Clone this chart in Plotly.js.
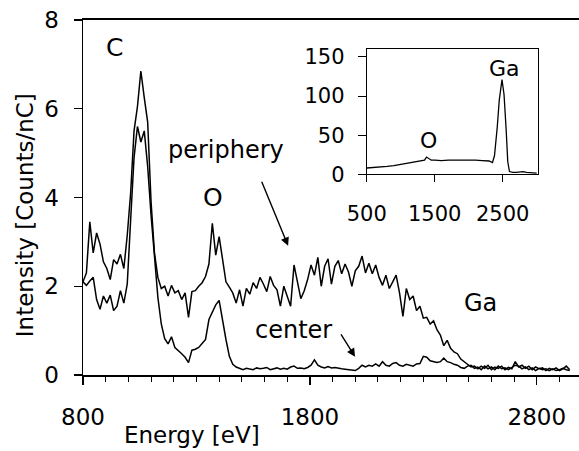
<!DOCTYPE html>
<html>
<head>
<meta charset="utf-8">
<script src="https://cdn.plot.ly/plotly-3.0.1.min.js"></script>
<style>html,body{margin:0;padding:0;background:#fff;}#chart{width:579px;height:451px;}</style>
</head>
<body>
<div id="chart"></div>
<script>
// Main spectrum: energy channels [eV]
const energy = [800,815,830,845,860,875,890,905,920,935,950,965,980,995,1010,1025,1040,1055,1070,1085,
1100,1115,1130,1145,1160,1175,1190,1205,1220,1235,1250,1265,1280,1295,1310,1325,1340,1355,1370,1385,
1400,1415,1430,1445,1460,1475,1490,1505,1520,1535,1550,1565,1580,1595,1610,1625,1640,1655,1670,1685,
1700,1715,1730,1745,1760,1775,1790,1805,1820,1835,1850,1865,1880,1895,1910,1925,1940,1955,1970,1985,
2000,2015,2030,2045,2060,2075,2090,2105,2120,2135,2150,2165,2180,2195,2210,2225,2240,2255,2270,2285,
2300,2315,2330,2345,2360,2375,2390,2405,2420,2435,2450,2465,2480,2495,2510,2525,2540,2555,2570,2585,
2600,2615,2630,2645,2660,2675,2690,2705,2720,2735,2750,2765,2780,2795,2810,2825,2840,2855,2870,2885,
2900,2915,2930,2945];
// Intensity [Counts/nC], periphery
const periphery = [2.10,2.30,3.45,2.75,3.20,2.95,2.55,2.40,2.15,2.60,2.50,2.72,2.40,3.15,4.10,5.50,6.05,6.85,6.25,5.70,
3.90,2.75,2.20,1.95,2.00,1.78,2.02,1.85,1.90,1.70,1.85,1.30,1.88,1.90,2.00,2.08,2.22,2.50,3.42,2.70,
3.12,2.65,2.10,1.98,1.85,1.62,1.92,1.55,1.95,1.82,2.08,1.95,2.20,2.05,1.88,2.22,2.02,1.92,1.55,2.00,
1.75,1.55,2.48,2.10,1.72,1.90,2.15,2.48,2.25,2.65,2.00,2.45,2.62,2.05,2.45,2.58,2.28,2.50,2.32,2.00,
2.35,2.45,2.68,2.30,2.52,2.28,2.48,2.20,2.02,2.25,1.95,2.10,2.25,1.85,1.32,1.95,1.70,1.78,1.45,1.55,
1.28,1.30,1.15,1.22,1.02,0.90,0.66,0.78,0.60,0.52,0.48,0.36,0.30,0.22,0.18,0.20,0.14,0.20,0.15,0.22,
0.12,0.18,0.15,0.20,0.12,0.17,0.14,0.30,0.18,0.22,0.15,0.20,0.12,0.18,0.14,0.16,0.10,0.15,0.12,0.16,
0.10,0.14,0.20,0.12];
// Intensity [Counts/nC], center
const center = [2.10,2.02,2.12,2.20,1.70,1.48,1.78,1.62,1.80,1.45,1.55,1.90,1.62,2.05,3.50,4.90,5.60,5.25,5.50,4.70,
3.60,2.60,1.75,1.15,0.82,0.70,0.86,0.62,0.56,0.48,0.40,0.28,0.56,0.58,0.62,0.70,0.80,1.25,1.40,1.58,
1.68,1.20,0.80,0.42,0.24,0.18,0.15,0.12,0.15,0.13,0.12,0.16,0.14,0.15,0.17,0.12,0.14,0.16,0.13,0.15,
0.13,0.18,0.20,0.15,0.16,0.14,0.17,0.22,0.34,0.22,0.18,0.16,0.19,0.16,0.17,0.15,0.14,0.13,0.12,0.12,
0.10,0.15,0.22,0.18,0.22,0.20,0.25,0.20,0.30,0.22,0.20,0.26,0.28,0.22,0.20,0.24,0.22,0.20,0.25,0.26,
0.42,0.40,0.32,0.30,0.28,0.30,0.38,0.30,0.28,0.24,0.22,0.17,0.15,0.20,0.22,0.15,0.18,0.12,0.20,0.14,
0.18,0.12,0.20,0.14,0.16,0.12,0.18,0.22,0.20,0.14,0.18,0.12,0.16,0.10,0.15,0.12,0.14,0.10,0.14,0.10,
0.12,0.15,0.12,0.10];
// Inset spectrum
const insetEnergy = [500,600,700,800,900,1000,1100,1200,1300,1350,1380,1420,1450,1500,1600,1700,1800,1900,2000,2100,
2200,2300,2350,2380,2420,2450,2490,2520,2550,2575,2600,2650,2700,2750,2800,2850,2900,2950,3000];
const insetCounts = [8,8.5,9,10,11,12.5,13.5,15,17,18,22,19,18,18,17.5,18,18,18.5,18,18,
17.5,17,15,24,60,95,121,102,59,16,3.5,2.5,2.5,3,3.5,2.5,2,2,1.5];

const mainTicks = [800,1800,2800];
const insetXTicks = [500,1500,2500];
const insetYTicks = [0,50,100,150];

const FONT = 'DejaVu Sans, Arial, sans-serif';
const lineStyle = {color:'#000', width:1.5};

const traces = [
  {x:energy, y:periphery, type:'scatter', mode:'lines', line:lineStyle, name:'periphery', xaxis:'x', yaxis:'y'},
  {x:energy, y:center, type:'scatter', mode:'lines', line:lineStyle, name:'center', xaxis:'x', yaxis:'y'},
  {x:insetEnergy, y:insetCounts, type:'scatter', mode:'lines', line:{color:'#000', width:1.3}, name:'inset', xaxis:'x2', yaxis:'y2'}
];

const layout = {
  width:579, height:451,
  margin:{l:83, r:0, t:20, b:76},
  paper_bgcolor:'#fff', plot_bgcolor:'rgba(0,0,0,0)',
  showlegend:false,
  font:{family:FONT, color:'#000', size:23},
  xaxis:{
    range:[800,2986], tickvals:mainTicks, ticks:'outside', ticklen:8, tickwidth:1.3, tickcolor:'#000',
    minor:{dtick:100, tick0:800, ticks:'outside', ticklen:5, tickwidth:1, tickcolor:'#000'},
    showline:true, linecolor:'#000', linewidth:1.8, mirror:true, showgrid:false, zeroline:false,
    tickfont:{size:23, family:FONT}, ticklabelstandoff:13
  },
  yaxis:{
    range:[0,8], tickvals:[0,2,4,6,8], ticks:'outside', ticklen:8, tickwidth:1.3, tickcolor:'#000',
    showline:true, linecolor:'#000', linewidth:1.5, showgrid:false, zeroline:false,
    tickfont:{size:23, family:FONT}, ticklabelstandoff:10
  },
  xaxis2:{
    domain:[0.572,0.9167], anchor:'y2', range:[500,3015], tickvals:insetXTicks,
    ticks:'outside', ticklen:7, tickwidth:1, tickcolor:'#000',
    showline:true, linecolor:'#000', linewidth:1, mirror:true, showgrid:false, zeroline:false,
    tickfont:{size:21, family:FONT}, ticklabelstandoff:14
  },
  yaxis2:{
    domain:[0.5654,0.918], anchor:'x2', range:[0,160], tickvals:insetYTicks,
    ticks:'outside', ticklen:8, tickwidth:1, tickcolor:'#000',
    showline:true, linecolor:'#000', linewidth:1, mirror:true, showgrid:false, zeroline:false,
    tickfont:{size:21, family:FONT}, ticklabelstandoff:9
  },
  annotations:[
    {text:'Intensity [Counts/nC]', xref:'paper', yref:'paper', x:-0.117, y:0.45, textangle:-90, showarrow:false, xanchor:'center', yanchor:'middle', font:{size:23}},
    {text:'Energy [eV]', xref:'paper', yref:'paper', x:0.2198, y:-0.17, showarrow:false, xanchor:'center', yanchor:'middle', font:{size:23}},
    {text:'C', xref:'x', yref:'y', x:941, y:7.39, showarrow:false, font:{size:25}},
    {text:'O', xref:'x', yref:'y', x:1373, y:3.99, showarrow:false, font:{size:25}},
    {text:'periphery', xref:'x', yref:'y', x:1430, y:5.07, showarrow:false, font:{size:24}},
    {text:'center', xref:'x', yref:'y', x:1728, y:1.01, showarrow:false, font:{size:24}},
    {text:'Ga', xref:'x', yref:'y', x:2550, y:1.62, showarrow:false, font:{size:24}},
    {text:'', xref:'x', yref:'y', axref:'x', ayref:'y', x:1704, y:2.91, ax:1585, ay:4.39, showarrow:true, arrowhead:2, arrowsize:1.2, arrowwidth:1.4, arrowcolor:'#000'},
    {text:'', xref:'x', yref:'y', axref:'x', ayref:'y', x:1999, y:0.41, ax:1933, ay:0.95, showarrow:true, arrowhead:2, arrowsize:1.2, arrowwidth:1.4, arrowcolor:'#000'},
    {text:'O', xref:'x2', yref:'y2', x:1406, y:43.8, showarrow:false, font:{size:22}},
    {text:'Ga', xref:'x2', yref:'y2', x:2534, y:135, showarrow:false, font:{size:22}}
  ]
};

Plotly.newPlot('chart', traces, layout, {staticPlot:true, displayModeBar:false});
</script>
</body>
</html>
